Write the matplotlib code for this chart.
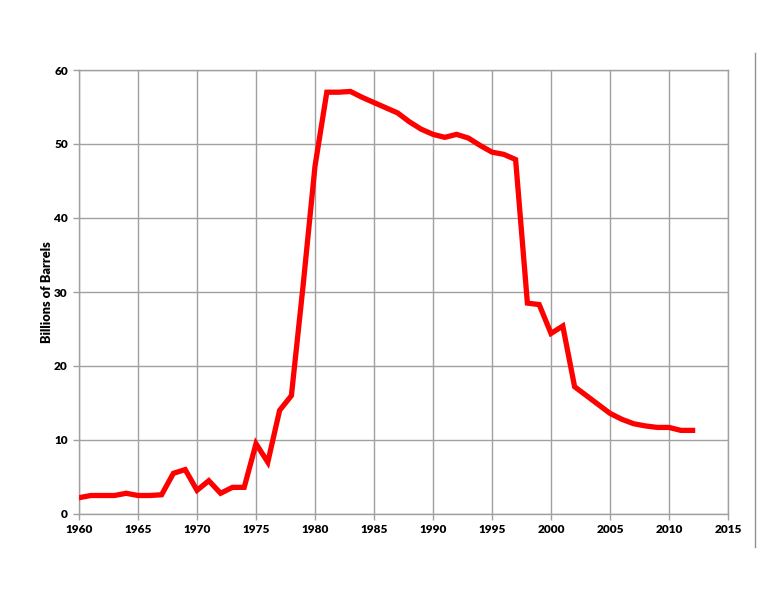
import matplotlib
matplotlib.use("Agg")
import matplotlib.pyplot as plt
from matplotlib.lines import Line2D

years = list(range(1960, 2013))
values = [2.2, 2.5, 2.5, 2.5, 2.8, 2.5, 2.5, 2.6, 5.5, 6.0,
          3.2, 4.5, 2.8, 3.6, 3.6, 9.5, 7.0, 14.0, 16.0, 31.0,
          47.0, 57.0, 57.0, 57.1, 56.3, 55.6, 54.9, 54.2, 53.0, 52.0,
          51.3, 50.9, 51.3, 50.8, 49.8, 48.9, 48.6, 47.9, 28.5, 28.3,
          24.4, 25.4, 17.2, 16.0, 14.8, 13.6, 12.8, 12.2, 11.9, 11.7,
          11.7, 11.3, 11.3]
x_ticks = list(range(1960, 2016, 5))
y_ticks = list(range(0, 61, 10))
y_label = "Billions of Barrels"

plt.rcParams['font.family'] = ['Lato', 'DejaVu Sans']
fig = plt.figure(figsize=(7.76, 6.0), dpi=100)
ax = fig.add_axes([79/776, 1-514/600, (728-79)/776, (514-70)/600])
ax.plot(years, values, color='#ff0000', lw=3.8, solid_joinstyle='miter', zorder=3)
ax.set_xlim(1960, 2015)
ax.set_ylim(0, 60)
ax.set_xticks(x_ticks)
ax.set_yticks(y_ticks)
ax.grid(True, color='#a0a0a0', lw=1.0)
for s in ax.spines.values():
    s.set_color('#a0a0a0')
    s.set_linewidth(1.0)
ax.tick_params(axis='both', colors='#a0a0a0', length=4, width=1.0, labelcolor='black', labelsize=8.5)
ax.tick_params(axis='y', pad=4)
ax.tick_params(axis='x', pad=3)
for lab in ax.get_xticklabels() + ax.get_yticklabels():
    lab.set_fontweight('heavy')
ax.set_ylabel(y_label, fontsize=9.2, fontweight='heavy', labelpad=0.5)
fig.add_artist(Line2D([755/776, 755/776], [1-53/600, 1-547/600], color='#909090', lw=1.0))
fig.savefig("out.png", dpi=100)
